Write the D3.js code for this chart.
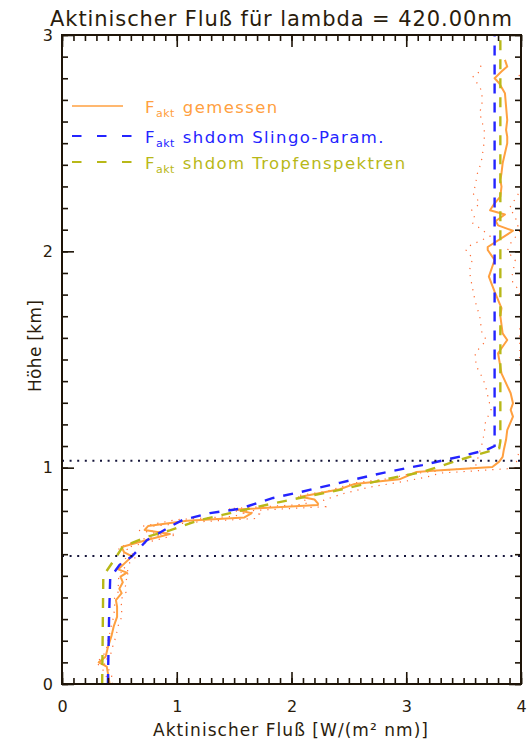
<!DOCTYPE html>
<html>
<head>
<meta charset="utf-8">
<script src="https://cdn.jsdelivr.net/npm/d3@7"></script>
<style>
  body { margin: 0; background: #fff; }
  text { font-family: "DejaVu Sans", sans-serif; fill: #2a1c0c; }
</style>
</head>
<body>
<svg id="chart" width="531" height="742"></svg>
<script>
// Measured actinic flux (solid orange), height in km / flux in W/(m2 nm)
var measuredH = [0.00, 0.05, 0.08, 0.10, 0.126, 0.17, 0.22, 0.265, 0.31, 0.357, 0.388, 0.42, 0.44, 0.47, 0.496,
  0.515, 0.53, 0.59, 0.61, 0.633, 0.666, 0.693, 0.712, 0.73, 0.755, 0.77, 0.789, 0.807, 0.827, 0.835, 0.853,
  0.866, 0.90, 0.925, 0.946, 0.98, 0.986, 1.003, 1.028, 1.05, 1.082, 1.13, 1.174, 1.236, 1.267, 1.298, 1.344,
  1.436, 1.529, 1.59, 1.621, 1.70, 1.737, 1.814, 1.883, 1.96, 2.006, 2.02, 2.095, 2.12, 2.14, 2.17, 2.19,
  2.222, 2.253, 2.299, 2.33, 2.361, 2.407, 2.453, 2.50, 2.53, 2.561, 2.607, 2.669, 2.731, 2.777, 2.80, 2.831,
  2.854, 2.885];
var measuredF = [0.415, 0.40, 0.39, 0.32, 0.38, 0.40, 0.43, 0.45, 0.48, 0.48, 0.47, 0.52, 0.50, 0.53, 0.51,
  0.565, 0.49, 0.61, 0.54, 0.52, 0.74, 0.94, 0.72, 0.75, 1.09, 1.59, 1.65, 1.52, 2.23, 2.23, 2.20,
  2.08, 2.42, 2.55, 2.94, 3.09, 3.23, 3.75, 3.81, 3.84, 3.85, 3.87, 3.88, 3.93, 3.91, 3.93, 3.91,
  3.83, 3.80, 3.88, 3.84, 3.82, 3.83, 3.77, 3.72, 3.77, 3.71, 3.71, 3.93, 3.80, 3.78, 3.86, 3.73,
  3.77, 3.82, 3.83, 3.82, 3.83, 3.84, 3.86, 3.88, 3.88, 3.87, 3.88, 3.87, 3.86, 3.81, 3.77, 3.83,
  3.88, 3.86];

// Lower and upper bounds of the measurement (dotted)
var lowerH = [0.00, 0.05, 0.10, 0.13, 0.17, 0.22, 0.27, 0.31, 0.36, 0.39, 0.42, 0.44, 0.47, 0.50, 0.52, 0.53,
  0.59, 0.61, 0.63, 0.67, 0.69, 0.71, 0.73, 0.76, 0.775, 0.79, 0.81, 0.83, 0.84, 0.87, 0.89, 0.93, 0.95, 0.97,
  0.98, 1.00, 1.11, 1.16, 1.21, 1.27, 1.31, 1.38, 1.42, 1.47, 1.53, 1.59, 1.62, 1.70, 1.77, 1.85, 1.91, 1.97,
  2.00, 2.02, 2.07, 2.10, 2.13, 2.15, 2.19, 2.22, 2.24, 2.27, 2.30, 2.36, 2.39, 2.43, 2.51, 2.56, 2.60, 2.64,
  2.68, 2.74, 2.81, 2.83, 2.885];
var lowerF = [0.40, 0.38, 0.30, 0.36, 0.39, 0.41, 0.43, 0.45, 0.46, 0.45, 0.49, 0.48, 0.50, 0.49, 0.52, 0.47,
  0.57, 0.51, 0.49, 0.70, 0.88, 0.67, 0.71, 1.00, 1.50, 1.58, 1.45, 2.10, 2.15, 2.04, 2.30, 2.55, 2.86, 3.02,
  3.19, 3.60, 3.66, 3.68, 3.69, 3.74, 3.72, 3.69, 3.66, 3.61, 3.60, 3.70, 3.66, 3.64, 3.60, 3.57, 3.55, 3.58,
  3.52, 3.53, 3.73, 3.66, 3.58, 3.60, 3.57, 3.64, 3.62, 3.58, 3.60, 3.62, 3.64, 3.66, 3.68, 3.68, 3.66, 3.64,
  3.66, 3.66, 3.58, 3.64, 3.66];
var upperH = [0.00, 0.05, 0.10, 0.13, 0.17, 0.22, 0.27, 0.31, 0.36, 0.39, 0.42, 0.44, 0.47, 0.50, 0.52, 0.53,
  0.59, 0.61, 0.63, 0.66, 0.69, 0.71, 0.73, 0.75, 0.765, 0.785, 0.80, 0.82, 0.85, 0.88, 0.91, 0.94, 0.96, 0.975,
  0.995, 1.00, 1.05, 1.10, 1.20, 1.30, 1.40, 1.48, 1.55, 1.65, 1.75, 1.83, 1.85, 1.88, 1.96, 2.00, 2.03, 2.10,
  2.12, 2.16, 2.20, 2.26, 2.30, 2.40, 2.60, 2.75, 2.80, 2.83, 2.885];
var upperF = [0.44, 0.43, 0.36, 0.42, 0.44, 0.47, 0.49, 0.52, 0.52, 0.51, 0.56, 0.54, 0.57, 0.55, 0.60, 0.53,
  0.65, 0.58, 0.56, 0.78, 1.00, 0.77, 0.80, 1.20, 1.68, 1.72, 1.60, 2.30, 2.28, 2.45, 2.68, 3.02, 3.20, 3.30,
  3.88, 3.95, 3.97, 4.00, 4.05, 4.10, 4.05, 3.99, 3.99, 3.99, 4.02, 3.97, 3.93, 3.92, 3.95, 3.88, 3.90, 4.00,
  3.97, 3.95, 3.90, 3.97, 4.02, 4.05, 4.05, 4.05, 3.94, 4.05, 4.08];

// SHDOM with Slingo parameterisation (blue dashed)
var slingoH = [0.00, 0.30, 0.49, 0.55, 0.59, 0.665, 0.727, 0.758, 0.79, 0.81, 0.86, 0.89, 0.93, 0.975, 1.012,
  1.054, 1.082, 1.10, 3.00];
var slingoF = [0.40, 0.41, 0.42, 0.50, 0.61, 0.74, 0.94, 1.05, 1.29, 1.55, 1.84, 2.10, 2.42, 2.79, 3.14,
  3.49, 3.70, 3.77, 3.77];

// SHDOM with drop spectra (olive dashed)
var dropH = [0.00, 0.50, 0.57, 0.635, 0.68, 0.71, 0.758, 0.80, 0.835, 0.86, 0.897, 0.943, 0.98, 1.035, 1.09,
  1.12, 3.00];
var dropF = [0.35, 0.36, 0.45, 0.53, 0.74, 0.94, 1.20, 1.55, 1.84, 2.07, 2.42, 2.79, 3.14, 3.46, 3.81,
  3.82, 3.82];

// Cloud base / top (dotted horizontal)
var cloudLevels = [0.592, 1.032];

var xTicks = [0, 1, 2, 3, 4];
var yTicks = [0, 1, 2, 3];
var legendNames = ["gemessen", "shdom Slingo-Param.", "shdom Tropfenspektren"];
var legendColors = ["#ffa040", "#2424ff", "#b8b818"];

var svg = d3.select("#chart");
var x = d3.scaleLinear().domain([0, 4]).range([62, 521]);
var y = d3.scaleLinear().domain([0, 3]).range([684, 35]);

var toPts = function(hs, fs) { return hs.map(function(h, i) { return [fs[i], h]; }); };
var line = d3.line().x(function(d) { return x(d[0]); }).y(function(d) { return y(d[1]); });

svg.append("clipPath").attr("id", "plotClip")
  .append("rect").attr("x", 62).attr("y", 35).attr("width", 459).attr("height", 649);

var plot = svg.append("g").attr("clip-path", "url(#plotClip)");

// Bounds
[toPts(lowerH, lowerF), toPts(upperH, upperF)].forEach(function(pts) {
  plot.append("path").attr("d", line(pts))
    .attr("fill", "none").attr("stroke", "#ff6a30").attr("stroke-width", 1.2)
    .attr("stroke-dasharray", "1.2,6");
});

// Measured
plot.append("path").attr("d", line(toPts(measuredH, measuredF)))
  .attr("fill", "none").attr("stroke", legendColors[0]).attr("stroke-width", 2)
  .attr("stroke-linejoin", "round");

// Model runs
plot.append("path").attr("d", line(toPts(slingoH, slingoF)))
  .attr("fill", "none").attr("stroke", legendColors[1]).attr("stroke-width", 2.4)
  .attr("stroke-dasharray", "10,9");
plot.append("path").attr("d", line(toPts(dropH, dropF)))
  .attr("fill", "none").attr("stroke", legendColors[2]).attr("stroke-width", 2.4)
  .attr("stroke-dasharray", "10,9");

// Cloud boundaries
plot.selectAll("line.cloud").data(cloudLevels).enter()
  .append("line").attr("class", "cloud")
  .attr("x1", 62).attr("x2", 521)
  .attr("y1", function(d) { return y(d); }).attr("y2", function(d) { return y(d); })
  .attr("stroke", "#14143a").attr("stroke-width", 2).attr("stroke-dasharray", "2,5.6");

// Axes: minor and major ticks on all four sides, pointing inward
var xMinor = d3.range(0, 41).map(function(i) { return i / 10; });
var yMinor = d3.range(0, 31).map(function(i) { return i / 10; });

function styleAxis(g) {
  g.select(".domain").remove();
  g.selectAll(".tick line").attr("stroke", "#1e1408").attr("stroke-width", 1.6);
  g.selectAll(".tick text").style("font-size", "16px").style("font-family", "DejaVu Sans").attr("fill", "#2a1c0c");
}

svg.append("g").attr("transform", "translate(0,684)")
  .call(d3.axisBottom(x).tickValues(xMinor).tickSize(-6).tickFormat("")).call(styleAxis);
svg.append("g").attr("transform", "translate(0,684)")
  .call(d3.axisBottom(x).tickValues(xTicks).tickSize(-12).tickPadding(17).tickFormat(d3.format("d"))).call(styleAxis);
svg.append("g").attr("transform", "translate(0,35)")
  .call(d3.axisTop(x).tickValues(xMinor).tickSize(-6).tickFormat("")).call(styleAxis);
svg.append("g").attr("transform", "translate(0,35)")
  .call(d3.axisTop(x).tickValues(xTicks).tickSize(-12).tickFormat("")).call(styleAxis);

svg.append("g").attr("transform", "translate(62,0)")
  .call(d3.axisLeft(y).tickValues(yMinor).tickSize(-6).tickFormat("")).call(styleAxis);
svg.append("g").attr("transform", "translate(62,0)")
  .call(d3.axisLeft(y).tickValues(yTicks).tickSize(-12).tickPadding(9).tickFormat(d3.format("d"))).call(styleAxis);
svg.append("g").attr("transform", "translate(521,0)")
  .call(d3.axisRight(y).tickValues(yMinor).tickSize(-6).tickFormat("")).call(styleAxis);
svg.append("g").attr("transform", "translate(521,0)")
  .call(d3.axisRight(y).tickValues(yTicks).tickSize(-12).tickFormat("")).call(styleAxis);

// Frame
svg.append("rect").attr("x", 62).attr("y", 35).attr("width", 459).attr("height", 649)
  .attr("fill", "none").attr("stroke", "#1e1408").attr("stroke-width", 2);

// Titles
svg.append("text").attr("x", 50).attr("y", 26)
  .attr("textLength", 462).attr("lengthAdjust", "spacing")
  .style("font-size", "21px")
  .text("Aktinischer Fluß für lambda = 420.00nm");
svg.append("text").attr("x", 153).attr("y", 736)
  .attr("textLength", 275).attr("lengthAdjust", "spacing")
  .style("font-size", "17px")
  .text("Aktinischer Fluß [W/(m² nm)]");
svg.append("text").attr("transform", "translate(41,392) rotate(-90)")
  .attr("textLength", 92).attr("lengthAdjust", "spacing")
  .style("font-size", "17px")
  .text("Höhe [km]");

// Legend
var legendY = [106, 136, 162];
var leg = svg.selectAll("g.legend").data(legendNames).enter()
  .append("g").attr("class", "legend")
  .attr("transform", function(d, i) { return "translate(0," + legendY[i] + ")"; });
leg.append("line").attr("x1", 72).attr("y1", 0).attr("y2", 0)
  .attr("x2", function(d, i) { return i === 0 ? 123 : 132; })
  .attr("stroke", function(d, i) { return legendColors[i]; })
  .attr("stroke-width", function(d, i) { return i === 0 ? 1.5 : 2; })
  .attr("stroke-dasharray", function(d, i) { return i === 0 ? null : "9.5,15.5"; });
var lt = leg.append("text").attr("x", 145).attr("y", 7)
  .style("font-size", "16.5px").style("letter-spacing", "1.4px")
  .style("fill", function(d, i) { return legendColors[i]; });
lt.append("tspan").text("F");
lt.append("tspan").attr("dy", 4).style("font-size", "11px").style("letter-spacing", "0.5px").text("akt");
lt.append("tspan").attr("dy", -4).attr("dx", 8).text(function(d) { return d; });
</script>
</body>
</html>
